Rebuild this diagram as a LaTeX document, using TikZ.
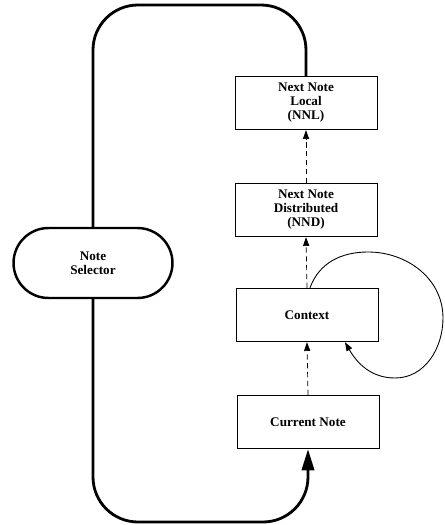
\documentclass[tikz,border=0pt]{standalone}
\usepackage{fontspec}
\setmainfont{Liberation Serif}
\usetikzlibrary{arrows.meta}
\begin{document}
\begin{tikzpicture}[x=0.02cm,y=0.02cm,
  box/.style={draw,line width=0.5pt,minimum width=2.84cm,minimum height=1.07cm,
              align=center,font=\fontsize{7.5}{8}\selectfont\bfseries},
  selector/.style={draw,line width=1.4pt,rounded corners=0.7cm,minimum width=3.18cm,
              minimum height=1.4cm,align=center,font=\fontsize{7.5}{8}\selectfont\bfseries},
  loopline/.style={line width=1.6pt,rounded corners=0.9cm},
  link/.style={line width=0.4pt,densely dashed,-{Triangle[length=5pt,width=3.5pt]}}]
\useasboundingbox (0,0) rectangle (445,525);
\node[box] (nnl) at (306,422) {Next Note\\Local\\(NNL)};
\node[box] (nnd) at (306,315) {Next Note\\Distributed\\(NND)};
\node[box] (ctx) at (307,210) {Context};
\node[box] (cur) at (308,103) {Current Note};
\node[selector] (ns) at (93,262) {Note\\Selector};
\draw[loopline] (nnl.north) -- (nnl.north |- 0,520) -- (93,520) -- (ns.north);
\draw[loopline,-{Triangle[length=12pt,width=7pt]}] (ns.south) -- (93,3)
                                           -- (cur.south |- 0,3)
                                           -- (cur.south);
\draw[link] (cur.north) -- (ctx.south);
\draw[link] (ctx.north) -- (nnd.south);
\draw[link] (nnd.north) -- (nnl.south);
\draw[line width=0.5pt,-{Triangle[length=5pt,width=3.5pt]}] ([xshift=0.06cm]ctx.north)
   to[out=70,in=180] (368,273) to[out=0,in=90] (443,207)
   to[out=-90,in=0] (395,147) to[out=180,in=-60] ([xshift=0.76cm]ctx.south);
\end{tikzpicture}
\end{document}
